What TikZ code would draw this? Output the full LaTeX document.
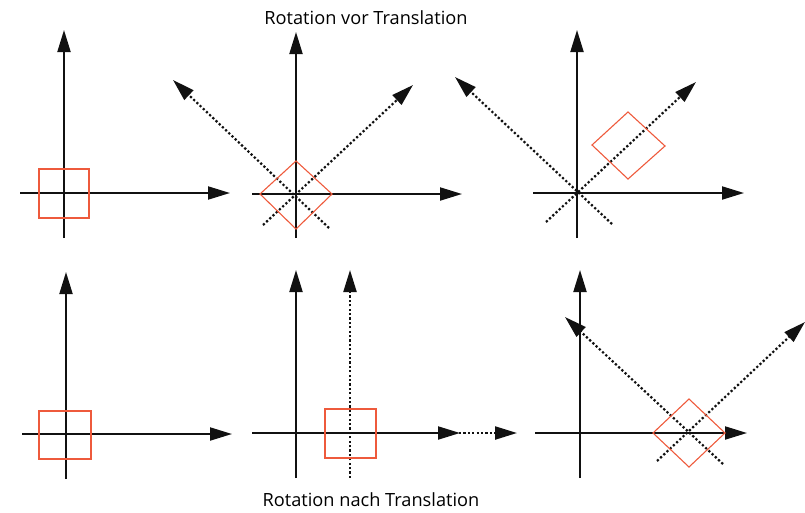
\documentclass[tikz,border=0pt]{standalone}
\usepackage{fontspec}
\setmainfont{Open Sans}
\usepackage{xcolor}
\usepackage{tikz}
\usetikzlibrary{arrows.meta}
\definecolor{boxred}{HTML}{EE5A3C}
\definecolor{axisink}{HTML}{111111}

\begin{document}
\begin{tikzpicture}[x=1pt,y=-1pt,font=\fontsize{18.2}{21}\selectfont,
  axis/.style={draw=axisink,line width=2pt,-{Triangle[length=22pt,width=13pt]}},
  rotaxis/.style={axis,line width=2.2pt,dash pattern=on 2.2pt off 2.2pt},
  frame/.style={draw=boxred,line width=1.1pt}]
\useasboundingbox (0,0) rectangle (805,512);
\node (titleTop) at (366,18) {Rotation vor Translation};
\node (titleBot) at (371,500) {Rotation nach Translation};
% oben: erst rotieren, dann verschieben
\begin{scope}[shift={(64,193)}]
\coordinate (o1) at (0,0);
\draw[axis] (-44,0) -- (166,0);
\draw[axis] (0,45) -- (0,-163);
\draw[frame] (-25,-24) -- (25,-24) -- (25,25) -- (-25,25) -- cycle;
\end{scope}
\begin{scope}[shift={(296,194)}]
\coordinate (o2) at (0,0);
\draw[axis] (-44,0) -- (166,0);
\draw[axis] (0,44) -- (0,-162);
\draw[rotaxis] (-33,31) -- (117,-109);
\draw[rotaxis] (33,34) -- (-123,-114);
\draw[frame] (-36,0) -- (0,-33) -- (36,0) -- (0,35) -- cycle;
\end{scope}
\begin{scope}[shift={(577,193)}]
\coordinate (o3) at (0,0);
\draw[axis] (-44,0) -- (167,0);
\draw[axis] (0,45) -- (0,-163);
\draw[rotaxis] (35,31) -- (-122,-116);
\draw[rotaxis] (-31,29) -- (119,-111);
\draw[frame] (15,-48) -- (51,-81) -- (88,-47) -- (51,-14) -- cycle;
\end{scope}
% unten: erst verschieben, dann rotieren
\begin{scope}[shift={(66,434)}]
\coordinate (o4) at (0,0);
\draw[axis] (-44,0) -- (166,0);
\draw[axis] (0,45) -- (0,-162);
\draw[frame] (-27,-23) -- (25,-23) -- (25,25) -- (-27,25) -- cycle;
\end{scope}
\begin{scope}[shift={(296,433)}]
\coordinate (o5) at (0,0);
\draw[axis] (-44,0) -- (164,0);
\draw[axis] (0,45) -- (0,-163);
\draw[rotaxis] (54,45) -- (54,-163);
\draw[rotaxis] (9,0) -- (221,0);
\draw[frame] (29,-24) -- (80,-24) -- (80,25) -- (29,25) -- cycle;
\end{scope}
\begin{scope}[shift={(580,433)}]
\coordinate (o6) at (0,0);
\draw[axis] (-45,0) -- (167,0);
\draw[axis] (0,45) -- (0,-163);
\draw[rotaxis] (143,31) -- (-15,-116);
\draw[rotaxis] (77,28) -- (225,-111);
\draw[frame] (73,0) -- (109,-34) -- (145,0) -- (109,34) -- cycle;
\end{scope}
\end{tikzpicture}
\end{document}
